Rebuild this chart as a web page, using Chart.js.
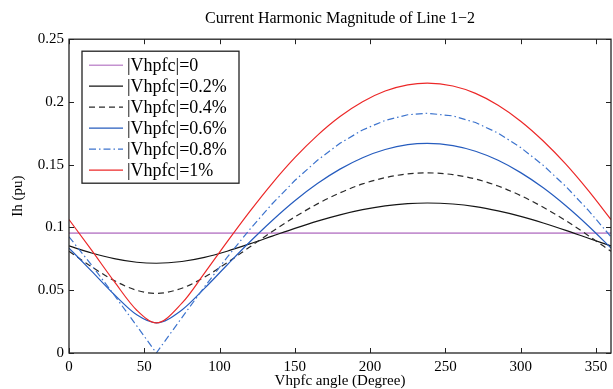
<!DOCTYPE html>
<html><head><meta charset="utf-8">
<script src="https://cdn.jsdelivr.net/npm/chart.js@4.4.0/dist/chart.umd.min.js"></script>
<style>html,body{margin:0;padding:0;background:#fff;}</style>
</head><body>
<canvas id="c" width="613" height="389"></canvas>
<script>
// ---- data ----
const angles = [0,15,30,45,58,75,90,105,120,135,150,165,180,195,210,225,238,255,270,285,300,315,330,345,360];
const seriesLabels = ['|Vhpfc|=0','|Vhpfc|=0.2%','|Vhpfc|=0.4%','|Vhpfc|=0.6%','|Vhpfc|=0.8%','|Vhpfc|=1%'];
const ih00 = [0.0955,0.0955,0.0955,0.0955,0.0955,0.0955,0.0955,0.0955,0.0955,0.0955,0.0955,0.0955,0.0955,0.0955,0.0955,0.0955,0.0955,0.0955,0.0955,0.0955,0.0955,0.0955,0.0955,0.0955,0.0955];
const ih02 = [0.0853,0.0797,0.0752,0.0723,0.0715,0.0729,0.0762,0.0811,0.0869,0.0931,0.0993,0.1051,0.1101,0.1142,0.1172,0.1190,0.1195,0.1187,0.1166,0.1132,0.1089,0.1036,0.0977,0.0914,0.0853];
const ih04 = [0.0810,0.0687,0.0577,0.0499,0.0475,0.0516,0.0604,0.0719,0.0844,0.0968,0.1084,0.1188,0.1276,0.1347,0.1397,0.1427,0.1435,0.1421,0.1386,0.1330,0.1254,0.1161,0.1054,0.0935,0.0810];
const ih06 = [0.0836,0.0652,0.0466,0.0304,0.0240,0.0343,0.0515,0.0701,0.0884,0.1056,0.1213,0.1350,0.1465,0.1556,0.1621,0.1660,0.1670,0.1652,0.1607,0.1535,0.1437,0.1316,0.1173,0.1012,0.0836];
const ih08 = [0.0926,0.0700,0.0462,0.0216,0.0000,0.0282,0.0527,0.0762,0.0984,0.1189,0.1374,0.1535,0.1671,0.1777,0.1853,0.1898,0.1910,0.1889,0.1836,0.1752,0.1637,0.1495,0.1327,0.1136,0.0926];
const ih10 = [0.1063,0.0819,0.0570,0.0341,0.0240,0.0397,0.0636,0.0885,0.1126,0.1352,0.1556,0.1734,0.1884,0.2002,0.2087,0.2136,0.2150,0.2127,0.2068,0.1974,0.1847,0.1689,0.1504,0.1293,0.1063];
const xTicks = [0,50,100,150,200,250,300,350];
const yTicks = [0,0.05,0.1,0.15,0.2,0.25];
const yTickLabels = ['0','0.05','0.1','0.15','0.2','0.25'];

const FONT = 'Liberation Serif, Times New Roman, serif';
const toXY = arr => angles.map((a, i) => ({x: a, y: arr[i]}));

const styles = [
  {color: 'rgb(196,146,208)', width: 1.6, dash: [], mode: 'monotone', tension: 0.4},
  {color: '#151515', width: 1.2, dash: [], mode: 'monotone', tension: 0.4},
  {color: '#2a2a2a', width: 1.2, dash: [6,4], mode: 'monotone', tension: 0.4},
  {color: 'rgb(38,92,190)', width: 1.2, dash: [], mode: 'monotone', tension: 0.4},
  {color: 'rgb(60,115,205)', width: 1.2, dash: [7,3,1.5,3], mode: 'default', tension: 0},
  {color: 'rgb(236,40,40)', width: 1.2, dash: [], mode: 'monotone', tension: 0.4}
];
const allSeries = [ih00, ih02, ih04, ih06, ih08, ih10];

const datasets = allSeries.map((s, i) => ({
  label: seriesLabels[i],
  data: toXY(s),
  borderColor: styles[i].color,
  borderWidth: styles[i].width,
  borderDash: styles[i].dash,
  cubicInterpolationMode: styles[i].mode,
  tension: styles[i].tension,
  pointRadius: 0,
  fill: false,
  order: allSeries.length - i
}));

const framePlugin = {
  id: 'frame',
  afterDatasetsDraw(chart) {
    const {ctx, chartArea: a, scales: {x, y}} = chart;
    ctx.save();
    ctx.strokeStyle = '#222';
    ctx.lineWidth = 1.3;
    ctx.setLineDash([]);
    ctx.strokeRect(a.left, a.top, a.right - a.left, a.bottom - a.top);
    const L = 5;
    ctx.lineWidth = 1;
    ctx.beginPath();
    xTicks.forEach(v => {
      const px = Math.round(x.getPixelForValue(v)) + 0.5;
      ctx.moveTo(px, a.bottom); ctx.lineTo(px, a.bottom - L);
      ctx.moveTo(px, a.top); ctx.lineTo(px, a.top + L);
    });
    yTicks.forEach(v => {
      const py = Math.round(y.getPixelForValue(v)) + 0.5;
      ctx.moveTo(a.left, py); ctx.lineTo(a.left + L, py);
      ctx.moveTo(a.right, py); ctx.lineTo(a.right - L, py);
    });
    ctx.stroke();

    // legend box inside the plot area
    const bx = a.left + 13, by = a.top + 12, bw = 157, bh = 132;
    ctx.fillStyle = '#fff';
    ctx.fillRect(bx, by, bw, bh);
    ctx.lineWidth = 1.3;
    ctx.strokeStyle = '#222';
    ctx.strokeRect(bx, by, bw, bh);
    ctx.font = '18px ' + FONT;
    ctx.textBaseline = 'middle';
    ctx.textAlign = 'left';
    chart.data.datasets.forEach((ds, i) => {
      const cy = by + 14 + i * 21;
      ctx.beginPath();
      ctx.strokeStyle = ds.borderColor;
      ctx.lineWidth = ds.borderWidth;
      ctx.setLineDash(ds.borderDash || []);
      ctx.moveTo(bx + 7, cy); ctx.lineTo(bx + 41, cy);
      ctx.stroke();
      ctx.setLineDash([]);
      ctx.fillStyle = '#000';
      ctx.fillText(ds.label, bx + 45, cy + 1);
    });
    ctx.restore();
  }
};

new Chart(document.getElementById('c'), {
  type: 'line',
  data: {datasets},
  plugins: [framePlugin],
  options: {
    responsive: false,
    animation: false,
    devicePixelRatio: 1,
    layout: {padding: {top: 0, right: 2, left: 0, bottom: 0}},
    plugins: {
      legend: {display: false},
      tooltip: {enabled: false},
      title: {
        display: true,
        fullSize: false,
        text: 'Current Harmonic Magnitude of Line 1\u22122',
        color: '#000',
        font: {family: FONT, size: 16, weight: 'normal'},
        padding: {top: 9, bottom: 11}
      }
    },
    scales: {
      x: {
        type: 'linear', min: 0, max: 360,
        grid: {display: false, drawTicks: false},
        border: {display: false},
        afterBuildTicks: s => { s.ticks = xTicks.map(v => ({value: v})); },
        afterFit: s => { s.height = 36; },
        ticks: {color: '#000', font: {family: FONT, size: 15}, padding: 5, maxRotation: 0, autoSkip: false},
        title: {display: true, text: 'Vhpfc angle (Degree)', color: '#000',
                font: {family: FONT, size: 15, lineHeight: 1}, padding: {top: 0, bottom: 0}}
      },
      y: {
        type: 'linear', min: 0, max: 0.25,
        grid: {display: false, drawTicks: false},
        border: {display: false},
        afterBuildTicks: s => { s.ticks = yTicks.map(v => ({value: v})); },
        afterFit: s => { s.width = 69; },
        ticks: {color: '#000', font: {family: FONT, size: 15}, padding: 5, autoSkip: false,
                callback: (v, i) => yTickLabels[i]},
        title: {display: true, text: 'Ih (pu)', color: '#000',
                font: {family: FONT, size: 15, lineHeight: 1.2}, padding: {top: 9, bottom: 0}}
      }
    }
  }
});
</script>
</body></html>
